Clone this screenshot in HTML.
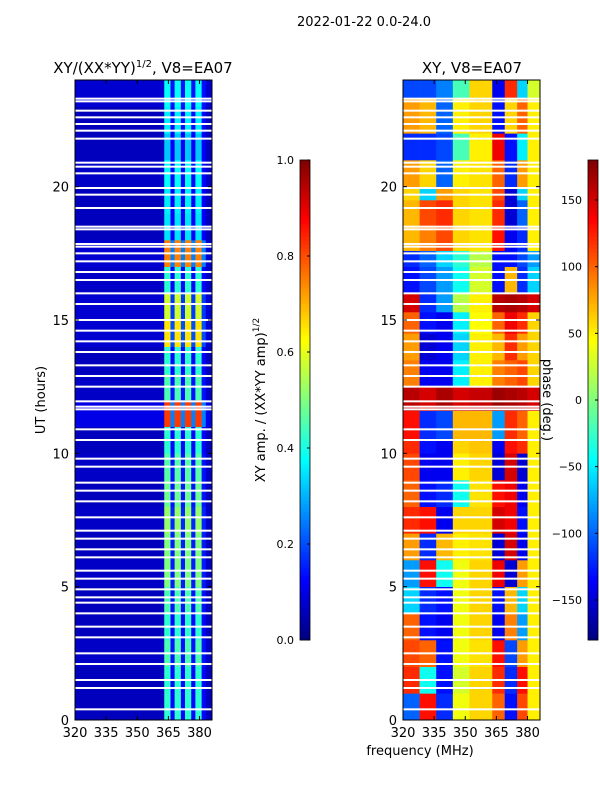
<!DOCTYPE html>
<html><head><meta charset="utf-8">
<style>
html,body{margin:0;padding:0;background:#fff;}
svg{display:block;font-family:"DejaVu Sans","Liberation Sans",sans-serif;}
</style></head>
<body>
<svg id="fig" width="600" height="800" viewBox="0 0 600 800" xmlns="http://www.w3.org/2000/svg">
<text x="364" y="26" font-size="13" text-anchor="middle">2022-01-22 0.0-24.0</text>
<text x="143" y="73" font-size="15" text-anchor="middle">XY/(XX*YY)<tspan font-size="10" dy="-6">1/2</tspan><tspan dy="6">, V8=EA07</tspan></text>
<text x="472" y="73" font-size="15" text-anchor="middle">XY, V8=EA07</text>
<g id="ampPlot"></g>
<g id="phasePlot"></g>
<g id="axes"></g>
<text x="45" y="400" font-size="13" text-anchor="middle" transform="rotate(-90 45 400)">UT (hours)</text>
<text x="420" y="755" font-size="13" text-anchor="middle">frequency (MHz)</text>
<text x="265" y="400" font-size="13" text-anchor="middle" transform="rotate(-90 265 400)">XY amp. / (XX*YY amp)<tspan font-size="9" dy="-6">1/2</tspan></text>
<text x="543" y="400" font-size="13" text-anchor="middle" transform="rotate(90 543 400)">phase (deg.)</text>
</svg>
<script>
// ---- data ----
const hours = [0,1,2,3,4,5,6,7,8,9,10,11,12,13,14,15,16,17,18,19,20,21,22,23];
const ampColEdges = [320,363,366,368,371,373,376,378,381,383,386];
const ampColType = ["bg","band","gap","band","gap","band","gap","band","gap","bg"];
const bandAmp = [0.42,0.42,0.45,0.42,0.45,0.5,0.5,0.52,0.48,0.46,0.42,0.82,0.45,0.42,0.65,0.58,0.42,0.75,0.35,0.36,0.38,0.32,0.36,0.38];
const gapAmp = [0.13,0.13,0.14,0.13,0.14,0.15,0.15,0.16,0.14,0.14,0.13,0.25,0.14,0.13,0.2,0.18,0.13,0.25,0.12,0.12,0.13,0.12,0.13,0.14];
const bgAmp = [0.06,0.06,0.07,0.06,0.06,0.07,0.06,0.07,0.06,0.07,0.06,0.1,0.07,0.06,0.08,0.08,0.07,0.08,0.06,0.06,0.07,0.06,0.06,0.08];
const phaseColEdges = [320,328,336,344,352,363,369,375,380,386];
const phaseRowEdges = [0,1,2,3,4,5,6,7,8,9,10,10.5,11.6,12.5,13.5,14.5,15.3,16,17,17.6,18.5,19.5,20,21,22,23.3,24];
const phaseVals = [
 [-100,130,-120,40,60,100,-130,110,50],
 [120,-40,-130,30,60,120,-120,130,50],
 [110,100,-130,40,55,130,-110,80,50],
 [100,-130,-140,40,60,-140,90,-80,50],
 [-60,-120,-130,40,60,-130,70,-60,50],
 [-80,130,-40,40,60,140,-150,80,50],
 [80,-120,70,50,55,-150,150,-140,50],
 [120,130,-140,60,60,150,140,-130,50],
 [100,-130,-120,-40,55,130,140,-140,50],
 [110,-140,-140,50,60,-150,150,-150,50],
 [120,-130,-140,60,65,-140,130,120,50],
 [130,-120,-110,70,70,-80,120,100,50],
 [160,150,165,150,155,170,165,160,150],
 [90,-140,-140,-50,50,90,100,110,60],
 [80,-150,-140,-60,50,70,120,80,60],
 [100,-130,-140,-50,45,100,140,120,60],
 [150,-120,-80,20,50,160,165,160,150],
 [-130,-110,-80,-40,30,-130,70,-120,-60],
 [-120,-100,-60,-30,20,-130,-130,-110,-80],
 [70,90,110,60,55,130,-140,-120,50],
 [70,110,120,60,55,120,-150,-100,50],
 [60,-60,80,60,55,110,-150,-60,50],
 [80,60,-100,50,55,100,-120,80,50],
 [-120,-120,-110,-20,50,140,-130,-50,50],
 [80,70,-100,50,60,-130,60,100,50],
 [-110,-110,-90,-20,60,-140,120,-60,30]
];
const gapHours = [23.3,23.2,22.85,22.6,22.35,22.1,21.8,20.9,20.75,20.5,19.95,19.7,19.2,18.5,18.4,17.85,17.75,17.5,17.2,16.8,16.5,16.0,15.6,15.0,14.6,14.2,13.8,13.3,12.9,12.5,11.95,11.75,11.65,10.9,10.5,9.8,9.5,8.9,8.6,8.2,7.6,7.1,6.8,6.4,6.1,5.6,5.3,4.9,4.6,4.4,4.0,3.5,3.1,2.5,2.1,1.5,1.2,0.4];
const yTicks = [0,5,10,15,20];
const xTicks = [320,335,350,365,380];
const ampCbTicks = [0.0,0.2,0.4,0.6,0.8,1.0];
const phaseCbTicks = [-150,-100,-50,0,50,100,150];

// ---- layout ----
const NS="http://www.w3.org/2000/svg";
const P1={x0:75,x1:212}, P2={x0:403,x1:540}, Y0=720, Y1=80;
const fMin=320,fMax=386;
const yScale=h=>Y0-(h/24)*(Y0-Y1);
const xScale=(P,f)=>P.x0+(f-fMin)/(fMax-fMin)*(P.x1-P.x0);
function jet(v){v=Math.max(0,Math.min(1,v));
 const r=Math.max(0,Math.min(1,1.5-Math.abs(4*v-3)));
 const g=Math.max(0,Math.min(1,1.5-Math.abs(4*v-2)));
 const b=Math.max(0,Math.min(1,1.5-Math.abs(4*v-1)));
 return `rgb(${Math.round(r*255)},${Math.round(g*255)},${Math.round(b*255)})`;}
function mk(tag,attrs,parent){const e=document.createElementNS(NS,tag);for(const k in attrs)e.setAttribute(k,attrs[k]);parent.appendChild(e);return e;}

const amp=document.getElementById('ampPlot');
const ph=document.getElementById('phasePlot');
const ax=document.getElementById('axes');

hours.forEach((h,i)=>{
 const yt=yScale(h+1), yb=yScale(h);
 for(let c=0;c<ampColType.length;c++){
  const t=ampColType[c];
  const v=t==="band"?bandAmp[i]:t==="gap"?gapAmp[i]:bgAmp[i];
  const x0=xScale(P1,ampColEdges[c]),x1=xScale(P1,ampColEdges[c+1]);
  const r=mk('rect',{x:x0,y:yt,width:x1-x0+0.3,height:yb-yt+0.3,fill:jet(v)},amp);
  
  
 }
});
phaseVals.forEach((row,i)=>{
 const yt=yScale(phaseRowEdges[i+1]), yb=yScale(phaseRowEdges[i]);
 for(let c=0;c<row.length;c++){
  const v=(row[c]+180)/360;
  const x0=xScale(P2,phaseColEdges[c]),x1=xScale(P2,phaseColEdges[c+1]);
  const r=mk('rect',{x:x0,y:yt,width:x1-x0+0.3,height:yb-yt+0.3,fill:jet(v)},ph);
  
  
 }
});
gapHours.forEach(g=>{
 [P1,P2].forEach(P=>{
  const r=mk('rect',{x:P.x0,y:yScale(g)-1,width:P.x1-P.x0,height:2,fill:'#fff'},ax);
  
  
 });
});
[P1,P2].forEach((P,pi)=>{
 const f=mk('rect',{x:P.x0,y:Y1,width:P.x1-P.x0,height:Y0-Y1,fill:'none',stroke:'#000','stroke-width':1},ax);
 
 
 yTicks.forEach(t=>{const y=yScale(t);
  mk('line',{x1:P.x0,x2:P.x0+4,y1:y,y2:y,stroke:'#000'},ax);
  mk('line',{x1:P.x1,x2:P.x1-4,y1:y,y2:y,stroke:'#000'},ax);
  const tx=mk('text',{x:P.x0-6,y:y+5,'font-size':13,'text-anchor':'end'},ax);tx.textContent=t;
  
  
 });
 xTicks.forEach(t=>{const x=xScale(P,t);
  mk('line',{x1:x,x2:x,y1:Y0,y2:Y0-4,stroke:'#000'},ax);
  mk('line',{x1:x,x2:x,y1:Y1,y2:Y1+4,stroke:'#000'},ax);
  const tx=mk('text',{x:x,y:Y0+17,'font-size':13,'text-anchor':'middle'},ax);tx.textContent=t;
  
  
 });
});
// colorbars
function colorbar(x,ticks,lo,hi,fmt,name){
 const g=mk('g',{},ax);
 
 
 const n=120,top=160,bot=640,w=10;
 for(let i=0;i<n;i++){const y=bot-(i+1)*(bot-top)/n;
  mk('rect',{x:x,y:y,width:w,height:(bot-top)/n+0.4,fill:jet((i+0.5)/n)},g);}
 mk('rect',{x:x,y:top,width:w,height:bot-top,fill:'none',stroke:'#000','stroke-width':0.8},g);
 ticks.forEach(t=>{const y=bot-(t-lo)/(hi-lo)*(bot-top);
  mk('line',{x1:x+w,x2:x+w-3,y1:y,y2:y,stroke:'#000'},g);
  const tx=mk('text',{x:x-6,y:y+4,'font-size':11,'text-anchor':'end'},g);tx.textContent=fmt(t);
  
  
 });
}
colorbar(300,ampCbTicks,0,1,t=>t.toFixed(1),'amp-colorbar');
colorbar(588,phaseCbTicks,-180,180,t=>t<0?'\u2212'+(-t):String(t),'phase-colorbar');
</script>
</body></html>
